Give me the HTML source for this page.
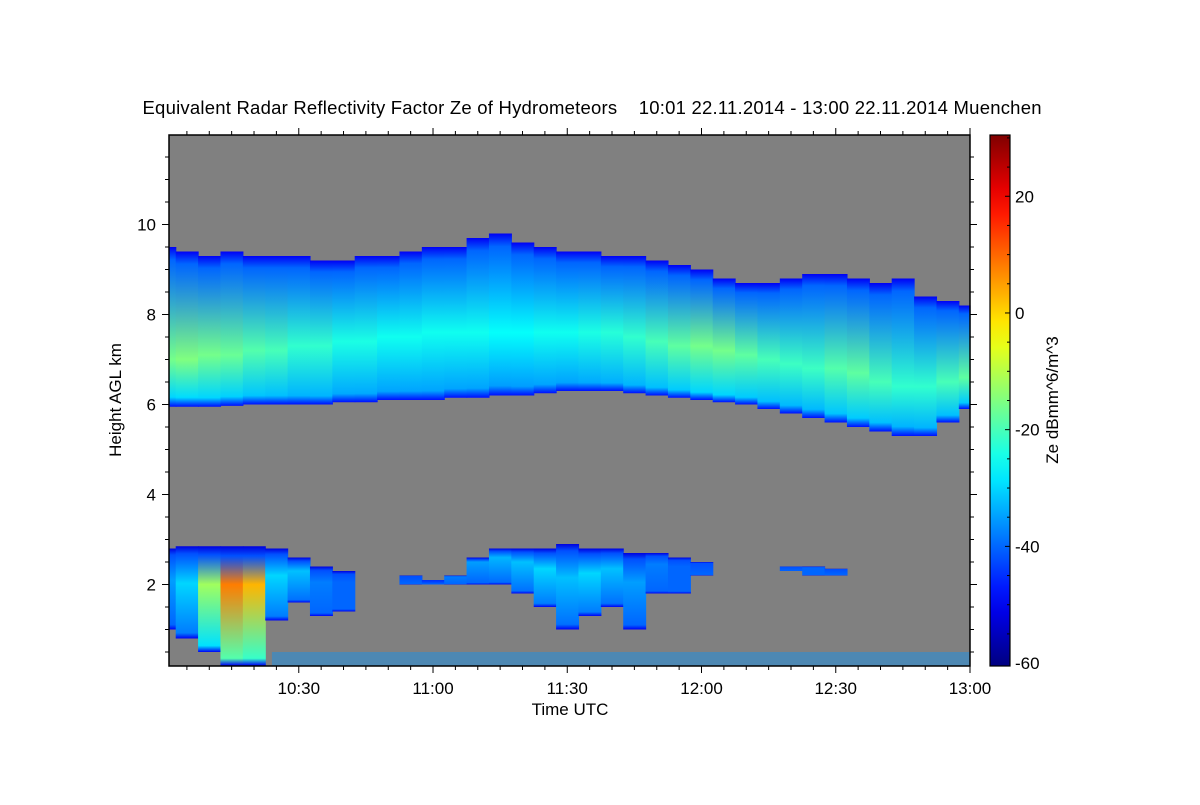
<!DOCTYPE html>
<html><head><meta charset="utf-8"><style>
body{margin:0;background:#fff;}
svg text{font-family:"Liberation Sans",sans-serif;fill:#000;}
</style></head><body>
<svg id="chart" width="1200" height="800" viewBox="0 0 1200 800" xmlns="http://www.w3.org/2000/svg">
<defs id="defs"></defs>
<text x="592" y="114" font-size="18.5" text-anchor="middle" textLength="899" lengthAdjust="spacing" xml:space="preserve" style="white-space:pre">Equivalent Radar Reflectivity Factor Ze of Hydrometeors    10:01 22.11.2014 - 13:00 22.11.2014 Muenchen</text>
<rect x="169" y="135" width="801" height="531" fill="#808080"/>
<g id="marks"></g>
<rect x="169" y="135" width="801" height="531" fill="none" stroke="#000" stroke-width="1.5"/>
<g id="axes"></g>
<text x="570" y="715" font-size="17" text-anchor="middle">Time UTC</text>
<text transform="translate(121,400) rotate(-90)" font-size="17" text-anchor="middle">Height AGL km</text>
<rect id="cbar" x="990" y="135" width="20" height="531" stroke="#000" stroke-width="1.2"/>
<g id="cbaxis"></g>
<text transform="translate(1058,400) rotate(-90)" font-size="17" text-anchor="middle">Ze dBmm^6/m^3</text>
</svg>
<script>
// time in minutes since 10:00
const times = [0,5,10,15,20,25,30,35,40,45,50,55,60,65,70,75,80,85,90,95,100,105,110,115,120,125,130,135,140,145,150,155,160,165,170,175,180];
const upperTop  = [9.5,9.4,9.3,9.4,9.3,9.3,9.3,9.2,9.2,9.3,9.3,9.4,9.5,9.5,9.7,9.8,9.6,9.5,9.4,9.4,9.3,9.3,9.2,9.1,9.0,8.8,8.7,8.7,8.8,8.9,8.9,8.8,8.7,8.8,8.4,8.3,8.2];
const upperBase = [5.95,5.95,5.95,5.97,6.0,6.0,6.0,6.0,6.05,6.05,6.1,6.1,6.1,6.15,6.15,6.2,6.2,6.25,6.3,6.3,6.3,6.25,6.2,6.15,6.1,6.05,6.0,5.9,5.8,5.7,5.6,5.5,5.4,5.3,5.3,5.6,5.9];
const upperCoreZe = [-16,-15,-16,-17,-19,-20,-22,-22,-24,-24,-25,-25,-25,-25,-25,-26,-26,-25,-25,-24,-23,-22,-20,-18,-16,-16,-18,-20,-21,-21,-19,-18,-20,-22,-22,-20,-18];
const upperCoreH = [7.0,7.0,7.1,7.1,7.2,7.2,7.3,7.3,7.4,7.4,7.5,7.5,7.6,7.6,7.6,7.6,7.6,7.6,7.6,7.6,7.6,7.5,7.4,7.3,7.3,7.2,7.1,7.0,6.9,6.8,6.8,6.7,6.5,6.4,6.4,6.5,6.6];
const lowerTop  = [2.8,2.85,2.85,2.85,2.85,2.8,2.6,2.4,2.3,null,null,2.2,2.1,2.2,2.6,2.8,2.8,2.8,2.9,2.8,2.8,2.7,2.7,2.6,2.5,null,null,null,2.4,2.4,2.35,null,null,null,null,null,null];
const lowerBase = [1.0,0.8,0.5,0.2,0.2,1.2,1.6,1.3,1.4,null,null,2.0,2.0,2.0,2.0,2.0,1.8,1.5,1.0,1.3,1.5,1.0,1.8,1.8,2.2,null,null,null,2.3,2.2,2.2,null,null,null,null,null,null];
const lowerCoreZe = [-35,-30,-12,8,3,-30,-32,-38,-40,null,null,-42,-45,-38,-35,-33,-32,-30,-32,-30,-32,-35,-38,-40,-42,null,null,null,-42,-40,-42,null,null,null,null,null,null];
const clutterStart = 24, clutterEnd = 180, clutterTopH = 0.5, clutterZe = -36;
const xTickLabels = ["10:30","11:00","11:30","12:00","12:30","13:00"];
const xTickValues = [30,60,90,120,150,180];
const yTickLabels = ["2","4","6","8","10"];
const yTickValues = [2,4,6,8,10];
const cbTickLabels = ["20","0","-20","-40","-60"];
const cbTickValues = [20,0,-20,-40,-60];

const NS="http://www.w3.org/2000/svg";
const X0=169,X1=970,T0=1,T1=180;
const x=t=>X0+(t-T0)/(T1-T0)*(X1-X0);
const y=h=>674.5-45*h;
const ZMIN=-60.5,ZMAX=30.5;
const cy=z=>135+(ZMAX-z)/(ZMAX-ZMIN)*531;
function jet(z){let v=(z-ZMIN)/(ZMAX-ZMIN);v=Math.max(0,Math.min(1,v));
 const c=f=>Math.round(255*Math.max(0,Math.min(1,f)));
 const r=c(1.5-Math.abs(4*v-3)),g=c(1.5-Math.abs(4*v-2)),b=c(1.5-Math.abs(4*v-1));
 return `rgb(${r},${g},${b})`;}
function el(tag,attrs,parent){const e=document.createElementNS(NS,tag);for(const k in attrs)e.setAttribute(k,attrs[k]);parent.appendChild(e);return e;}
const defs=document.getElementById('defs'),marks=document.getElementById('marks'),axes=document.getElementById('axes'),cbaxis=document.getElementById('cbaxis');
let gid=0;
function column(i,top,base,ze,coreH,edge){
 const half=(times[1]-times[0])/2;
 const xa=Math.max(X0,x(times[i]-half)),xb=Math.min(X1,x(times[i]+half));
 const yt=Math.max(135,y(top)),yb=Math.min(666,y(base));
 if(yb-yt<=0||xb-xa<=0)return;
 const id='g'+(gid++);
 const g=el('linearGradient',{id:id,x1:0,y1:0,x2:0,y2:1},defs);
 const co=Math.max(0.1,Math.min(0.9,(top-coreH)/(top-base)));
 const stops=[[0,edge-6],[0.08,edge+4],[co,ze],[0.94,Math.max(edge+6,(ze+edge)/2)],[1,edge-4]];
 stops.forEach(s=>el('stop',{offset:s[0],'stop-color':jet(s[1])},g));
 const r=el('rect',{x:xa,y:yt,width:xb-xa+0.6,height:yb-yt,fill:`url(#${id})`},marks);
 
 
}
times.forEach((t,i)=>{
 column(i,upperTop[i],upperBase[i],upperCoreZe[i],upperCoreH[i],-44);
 if(lowerTop[i]!==null){
  const ch=lowerCoreZe[i]>-20?2.0:(lowerTop[i]+lowerBase[i])/2+0.2;
  column(i,lowerTop[i],lowerBase[i],lowerCoreZe[i],ch,-46);
 }
});
const cl=el('rect',{x:x(clutterStart),y:y(clutterTopH),width:x(clutterEnd)-x(clutterStart),height:666-y(clutterTopH),fill:jet(clutterZe),opacity:0.4},marks);


// x ticks
for(let t=5;t<=180;t+=5){const major=t%30===0;const xx=x(t);
 el('line',{x1:xx,y1:666,x2:xx,y2:666+(major?7:4),stroke:'#000'},axes);
 el('line',{x1:xx,y1:135,x2:xx,y2:135-(major?7:4),stroke:'#000'},axes);}
xTickValues.forEach((v,i)=>{const t=el('text',{x:x(v),y:694,'font-size':17,'text-anchor':'middle'},axes);t.textContent=xTickLabels[i];
 });
for(let h=0.5;h<=11.5;h+=0.5){const major=h%2===0;const yy=y(h);
 el('line',{x1:169,y1:yy,x2:169-(major?7:4),y2:yy,stroke:'#000'},axes);
 el('line',{x1:970,y1:yy,x2:970+(major?7:4),y2:yy,stroke:'#000'},axes);}
yTickValues.forEach((v,i)=>{const t=el('text',{x:156,y:y(v)+6,'font-size':17,'text-anchor':'end'},axes);t.textContent=yTickLabels[i];
 });
// colorbar
const cg=el('linearGradient',{id:'cbg',x1:0,y1:1,x2:0,y2:0},defs);
for(let k=0;k<=20;k++){const z=ZMIN+(ZMAX-ZMIN)*k/20;el('stop',{offset:k/20,'stop-color':jet(z)},cg);}
document.getElementById('cbar').setAttribute('fill','url(#cbg)');
for(let z=-55;z<=30;z+=5){const yy=cy(z);el('line',{x1:1010,y1:yy,x2:1010-(z%20===0?5:3),y2:yy,stroke:'#000'},cbaxis);}
cbTickValues.forEach((v,i)=>{const t=el('text',{x:1015,y:cy(v)+6,'font-size':17},cbaxis);t.textContent=cbTickLabels[i];
 });
</script>
</body></html>
